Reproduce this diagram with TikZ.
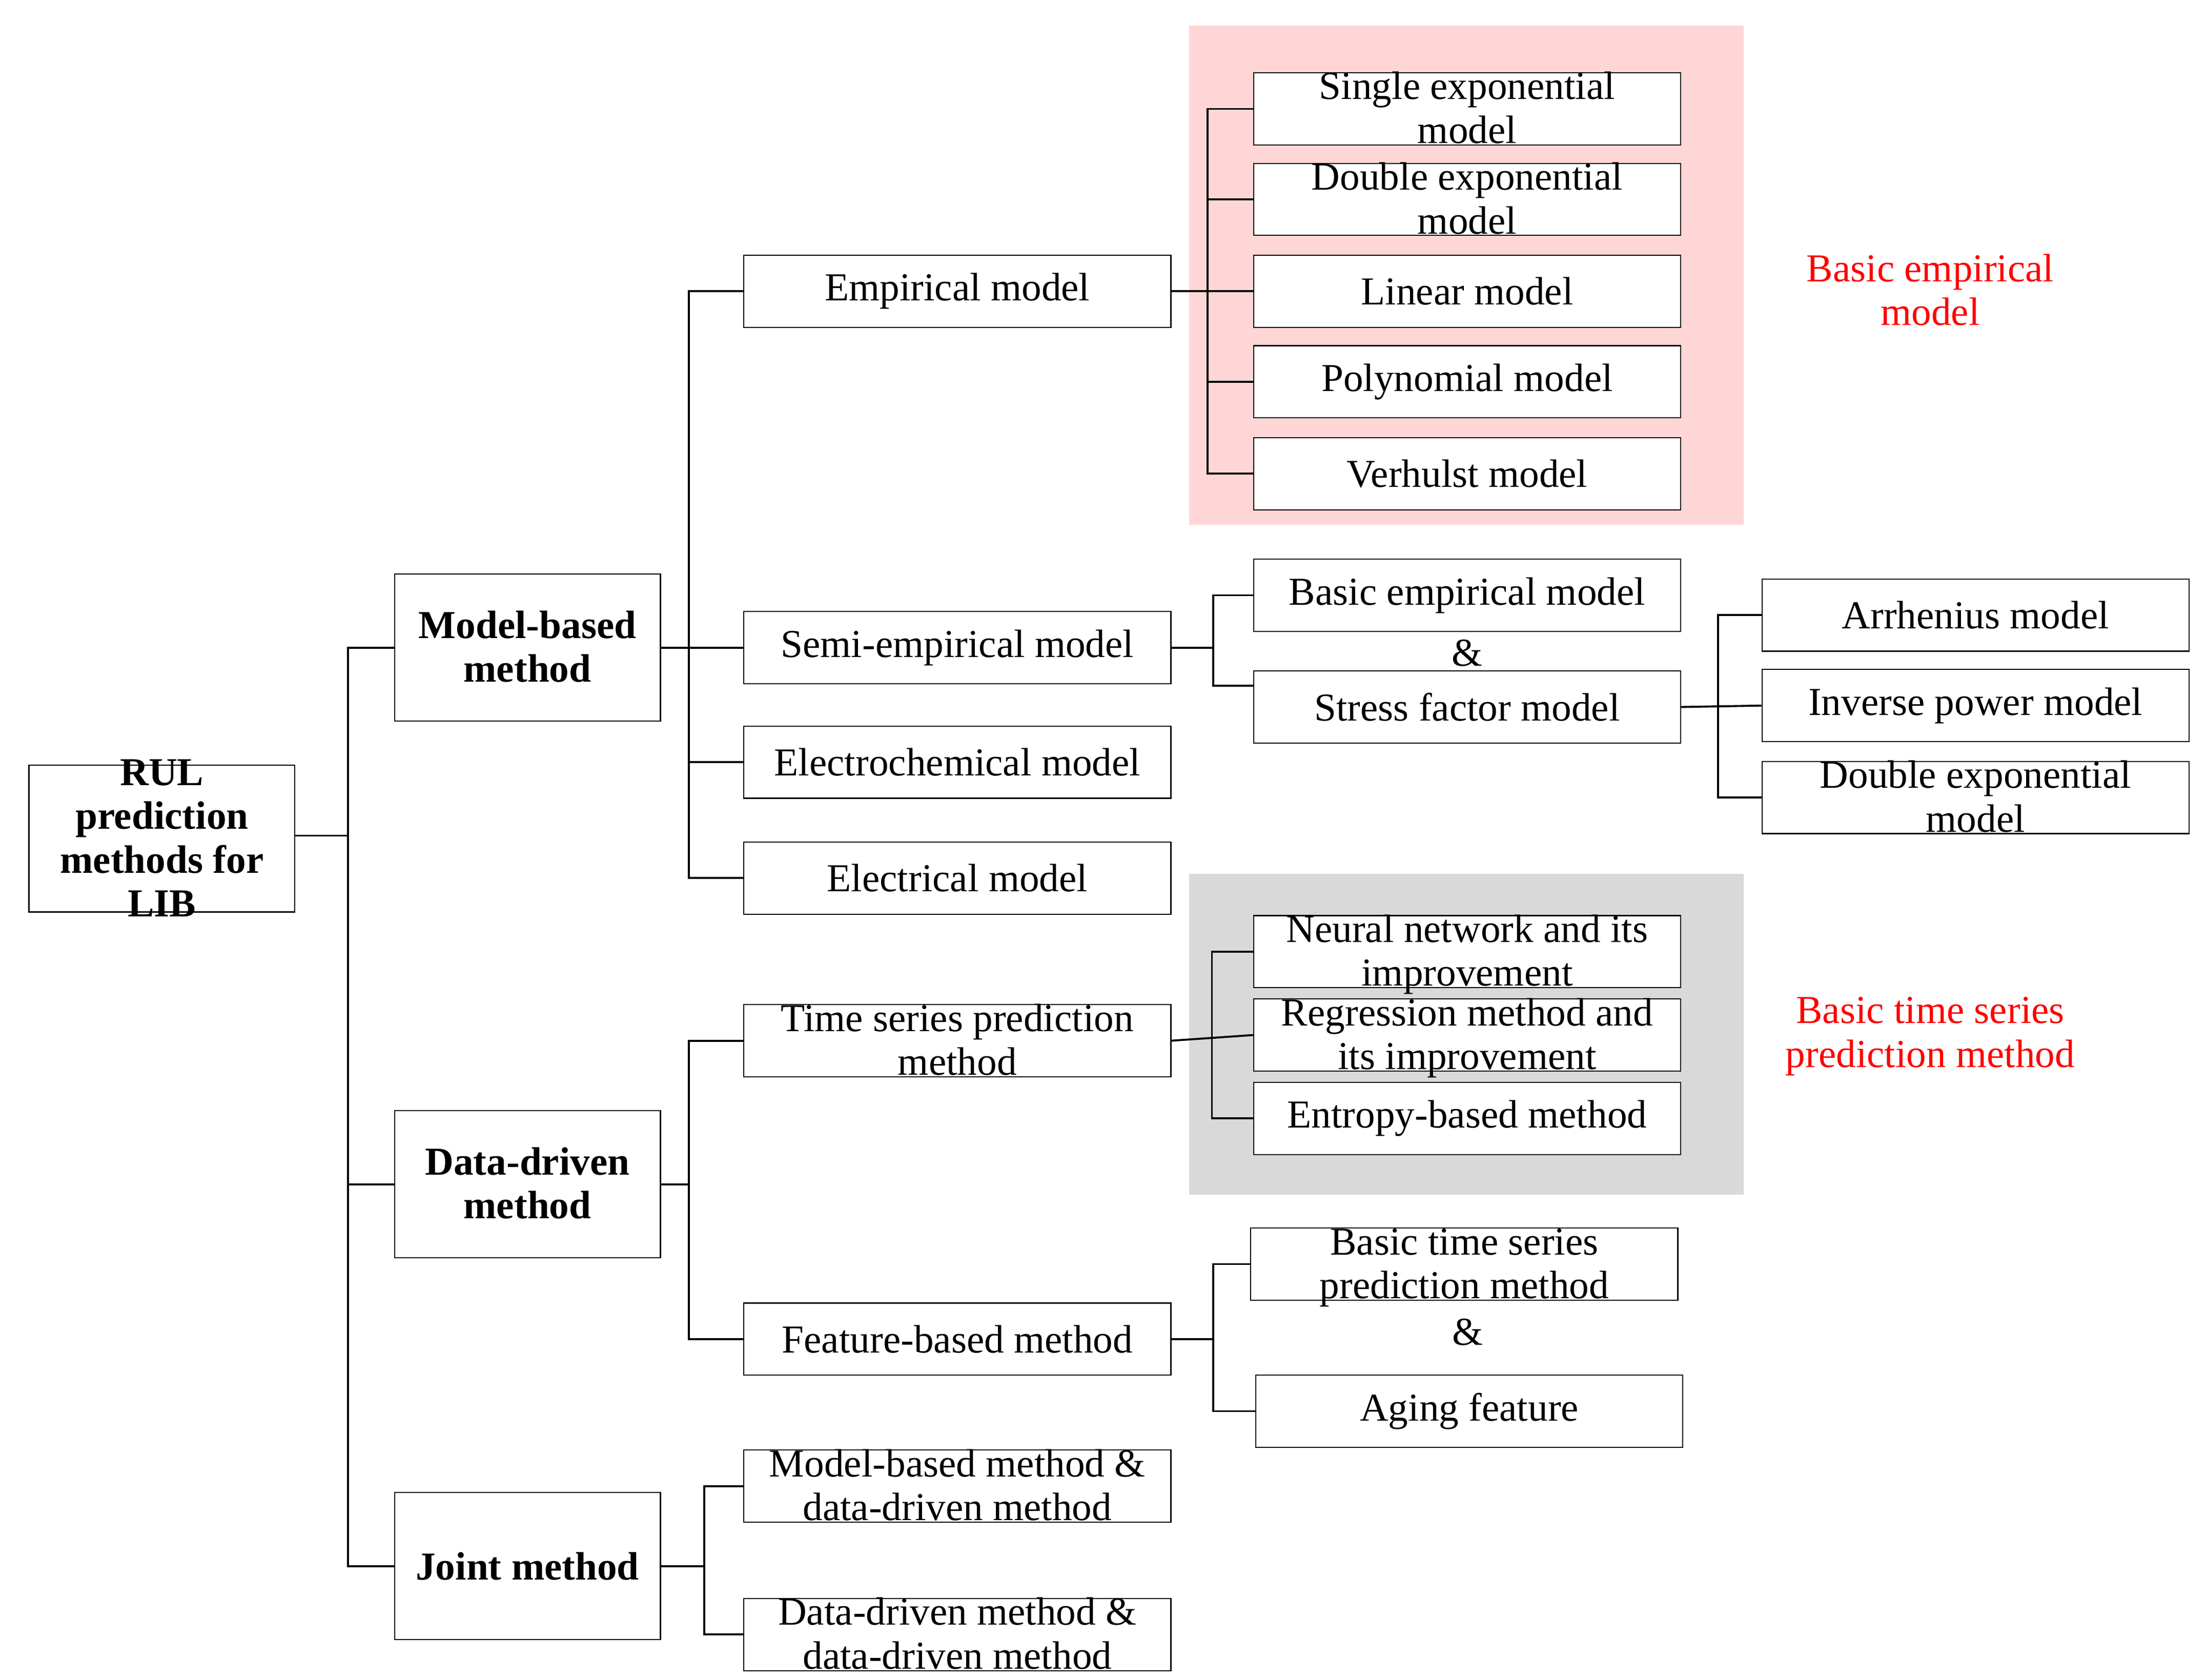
\documentclass[tikz,border=0pt]{standalone}
\usepackage{fontspec}
\setmainfont{Liberation Serif}
\begin{document}
\begin{tikzpicture}[x=0.5pt,y=-0.5pt,
  b/.style={draw,fill=white,minimum width=151pt,minimum height=25.5pt,inner sep=0pt,font=\fontsize{14}{15.5}\selectfont},
  L/.style={draw,fill=white,minimum width=94pt,minimum height=52pt,inner sep=0pt,font=\bfseries\fontsize{14}{15.5}\selectfont},
  lab/.style={text=red,align=center,font=\fontsize{14}{15.5}\selectfont},
  w/.style={line width=0.7pt}]
\newcommand{\tl}[2]{\smash{\raisebox{-0.35em}{\begin{tabular}[c]{@{}c@{}}#1\\#2\end{tabular}}}}
\useasboundingbox (0,0) rectangle (1560,1188);
\fill[white] (0,0) rectangle (1560,1188);
\fill[red!20!white,opacity=0.8] (841,18) rectangle (1233,371);
\fill[black!15] (841,618) rectangle (1233,845);
% level 1
\node[L,minimum height=52pt] (root) at (114.5,593) {\smash{\raisebox{-0.35em}{\begin{tabular}[c]{@{}c@{}}RUL\\prediction\\methods for\\LIB\end{tabular}}}};
\node[L] (mb) at (373,458) {\tl{Model-based}{method}};
\node[L] (dd) at (373,837.5) {\tl{Data-driven}{method}};
\node[L] (jm) at (373,1107.5) {Joint method};
% level 2
\node[b] (emp) at (677,206) {Empirical model};
\node[b] (semi) at (677,458) {Semi-empirical model};
\node[b] (ec) at (677,539) {Electrochemical model};
\node[b] (el) at (677,621) {Electrical model};
\node[b] (ts) at (677,736) {\tl{Time series prediction}{method}};
\node[b] (fb) at (677,947) {Feature-based method};
\node[b] (j1) at (677,1051) {\tl{Model-based method \&}{data-driven method}};
\node[b] (j2) at (677,1156) {\tl{Data-driven method \&}{data-driven method}};
% level 3
\node[b] (e1) at (1037.5,77) {\tl{Single exponential}{model}};
\node[b] (e2) at (1037.5,141) {\tl{Double exponential}{model}};
\node[b] (e3) at (1037.5,206) {Linear model};
\node[b] (e4) at (1037.5,270) {Polynomial model};
\node[b] (e5) at (1037.5,335) {Verhulst model};
\node[b] (s1) at (1037.5,421) {Basic empirical model};
\node (amp1) at (1037.5,462) {\fontsize{14}{15.5}\selectfont\&};
\node[b] (s2) at (1037.5,500) {Stress factor model};
\node[b] (a1) at (1397,435) {Arrhenius model};
\node[b] (a2) at (1397,499) {Inverse power model};
\node[b] (a3) at (1397,564) {\tl{Double exponential}{model}};
\node[b] (t1) at (1037.5,673) {\tl{Neural network and its}{improvement}};
\node[b] (t2) at (1037.5,732) {\tl{Regression method and}{its improvement}};
\node[b] (t3) at (1037.5,791) {Entropy-based method};
\node[b] (f1) at (1035.5,894) {\tl{Basic time series}{prediction method}};
\node (amp2) at (1038,942) {\fontsize{14}{15.5}\selectfont\&};
\node[b] (f2) at (1039,998) {Aging feature};
\node[lab] (r1) at (1365,205) {Basic empirical\\model};
\node[lab] (r2) at (1365,733) {Basic time series\\prediction method};
% connectors
\coordinate (k0) at (246,591);
\draw[w] (root.east|-k0) -- (k0);
\draw[w] (mb.west) -| (k0) |- (jm.west);
\draw[w] (k0) |- (dd.west);
\coordinate (k1) at (487,458);
\draw[w] (mb.east) -- (semi.west);
\draw[w] (emp.west) -| (k1) |- (el.west);
\draw[w] (k1) |- (ec.west);
\coordinate (k2) at (487,837.5);
\draw[w] (dd.east) -- (k2);
\draw[w] (ts.west) -| (k2) |- (fb.west);
\coordinate (k3) at (498,1107.5);
\draw[w] (jm.east) -- (k3);
\draw[w] (j1.west) -| (k3) |- (j2.west);
\coordinate (k4) at (854,206);
\draw[w] (emp.east) -- (e3.west);
\draw[w] (e1.west) -| (k4) |- (e5.west);
\draw[w] (k4) |- (e2.west); \draw[w] (k4) |- (e4.west);
\coordinate (k5) at (858,458);
\draw[w] (semi.east) -- (k5);
\draw[w] (s1.west) -| (k5) |- ([yshift=7.5pt]s2.west);
\coordinate (k6) at (1215,500);
\draw[w] (s2.east) -- (a2.west);
\draw[w] (a1.west) -| (k6) |- (a3.west);
\coordinate (k7) at (857,731);
\draw[w] (ts.east) -- (t2.west);
\draw[w] (t1.west) -| (k7) |- (t3.west);
\coordinate (k8) at (858,947);
\draw[w] (fb.east) -- (k8);
\draw[w] (f1.west) -| (k8) |- (f2.west);
\end{tikzpicture}
\end{document}
